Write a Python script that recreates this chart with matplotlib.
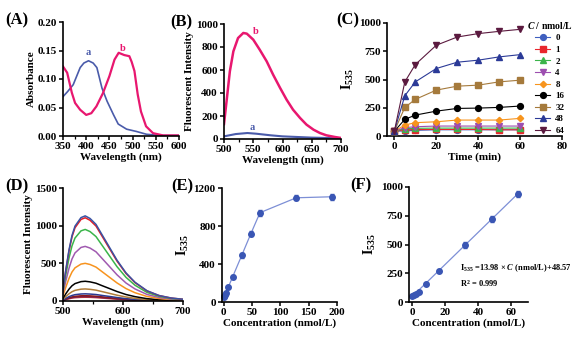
import numpy as np
import matplotlib
matplotlib.use("Agg")
import matplotlib.pyplot as plt
from matplotlib.lines import Line2D

plt.rcParams['font.family'] = 'Liberation Serif'
plt.rcParams['font.weight'] = 'bold'
plt.rcParams['axes.labelweight'] = 'bold'
plt.rcParams['mathtext.fontset'] = 'custom'
plt.rcParams['mathtext.rm'] = 'Liberation Serif:bold'
plt.rcParams['mathtext.bf'] = 'Liberation Serif:bold'
plt.rcParams['mathtext.it'] = 'Liberation Serif:italic:bold'

# (A) absorbance spectra
a_wl = [350, 360, 372, 387, 395, 405, 415, 423, 434, 445, 459, 469, 487, 508, 530, 559, 600]
a_abs = [0.069, 0.078, 0.090, 0.120, 0.128, 0.132, 0.128, 0.120, 0.084, 0.061, 0.037,
         0.021, 0.012, 0.008, 0.003, 0.001, 0.001]
b_wl = [350, 359, 369, 376, 387, 400, 411, 422, 436, 450, 461, 470, 476, 482, 493, 498,
        504, 511, 518, 529, 544, 566, 600]
b_abs = [0.122, 0.111, 0.076, 0.058, 0.046, 0.037, 0.040, 0.052, 0.075, 0.105, 0.134,
         0.146, 0.144, 0.142, 0.140, 0.130, 0.114, 0.073, 0.043, 0.017, 0.005, 0.001, 0.001]

# (B) fluorescence spectra
fb_wl = [500, 505, 510, 516, 524, 533, 539, 550, 561, 573, 584, 596, 607, 618, 630, 641,
         653, 664, 675, 690, 700]
fb = [130, 357, 588, 762, 878, 922, 916, 864, 777, 675, 559, 443, 342, 255, 183, 125, 81,
      52, 32, 17, 9]
fa_wl = [500, 520, 540, 555, 580, 600, 650, 700]
fa = [23, 43, 52, 46, 32, 23, 12, 6]

# (C) kinetics
time = [0, 5, 10, 20, 30, 40, 50, 60]
conc_labels = ['0', '1', '2', '4', '8', '16', '32', '48', '64']
kinetics = [
    [42, 45, 50, 55, 55, 55, 55, 55],
    [42, 55, 57, 58, 58, 58, 55, 55],
    [42, 65, 68, 70, 70, 70, 70, 70],
    [42, 74, 82, 88, 88, 88, 88, 88],
    [42, 97, 118, 126, 141, 141, 141, 156],
    [42, 147, 185, 220, 244, 247, 253, 265],
    [42, 253, 324, 406, 441, 450, 479, 494],
    [42, 356, 479, 597, 653, 671, 700, 720],
    [42, 479, 632, 803, 876, 906, 926, 944],
]
c_colors = ['#3f5fbf', '#e8262d', '#3cb44b', '#9d4fb0', '#f7941d', '#000000', '#a57a3c',
            '#2b3a97', '#5b1a3f']
c_markers = ['o', 's', '^', 'v', 'D', 'o', 's', '^', 'v']

# (D) spectra at different concentrations
d_wl = [500, 505, 510, 515, 520, 530, 537, 545, 555, 565, 575, 590, 605, 620, 640, 660, 680, 700]
d_curves = [
    [158, 429, 678, 870, 994, 1107, 1130, 1096, 1017, 881, 746, 542, 373, 249, 136, 73, 40, 23],
    [155, 420, 663, 851, 972, 1083, 1105, 1072, 995, 862, 729, 530, 365, 243, 133, 72, 39, 22],
    [133, 361, 570, 732, 836, 931, 950, 922, 855, 741, 627, 456, 314, 209, 114, 62, 33, 19],
    [102, 276, 435, 558, 638, 711, 725, 703, 653, 566, 479, 348, 239, 160, 87, 47, 25, 15],
    [70, 190, 300, 385, 440, 490, 500, 485, 450, 390, 330, 240, 165, 110, 60, 33, 18, 10],
    [37, 100, 157, 202, 231, 257, 262, 254, 236, 204, 173, 126, 86, 58, 31, 17, 9, 5],
    [22, 61, 96, 123, 141, 157, 160, 155, 144, 125, 106, 77, 53, 35, 19, 10, 6, 3],
    [13, 36, 57, 73, 84, 93, 95, 92, 86, 74, 63, 46, 31, 21, 11, 6, 3, 2],
    [10, 27, 42, 54, 62, 69, 70, 68, 63, 55, 46, 34, 23, 15, 8, 5, 2, 1],
    [8, 23, 36, 46, 53, 59, 60, 58, 54, 47, 40, 29, 20, 13, 7, 4, 2, 1],
    [7, 19, 30, 39, 44, 49, 50, 49, 45, 39, 33, 24, 17, 11, 6, 3, 2, 1],
]
d_colors = ['#3953a4', '#e41e26', '#3ab54a', '#a05ab0', '#f7931e', '#000000', '#b07d3a',
            '#2b3990', '#8b1a1a', '#6a1b6a', '#c0392b']

# (E) / (F) calibration
e_conc = [0, 1, 2, 4, 8, 16, 32, 48, 64, 128, 192]
e_int = [50, 60, 70, 90, 155, 268, 493, 720, 940, 1097, 1108]
e_err = [10, 10, 10, 10, 12, 15, 25, 25, 30, 25, 30]
f_conc = [0, 1, 2, 4, 8, 16, 32, 48, 64]
f_int = [50, 60, 70, 90, 155, 270, 495, 722, 938]
f_err = [8, 8, 8, 10, 10, 12, 28, 25, 28]
slope, intercept = 13.98, 48.57

W, H = 581, 340
fig = plt.figure(figsize=(W / 100, H / 100), dpi=100)


def make_ax(l, r, t, b):
    ax = fig.add_axes([l / W, 1 - b / H, (r - l) / W, (b - t) / H])
    for s in ['top', 'right']:
        ax.spines[s].set_visible(False)
    for s in ['left', 'bottom']:
        ax.spines[s].set_linewidth(1.2)
    ax.tick_params(labelsize=8, length=3, width=1.1, pad=1.5)
    ax.tick_params(which='minor', length=2, width=0.9)
    return ax


lab_kw = dict(fontsize=8, fontweight='bold', labelpad=1)
i_kw = dict(fontsize=10, fontweight='bold', labelpad=2)
panel_kw = dict(fontsize=12, fontweight='bold', va='center')
blue = '#3a56b4'
light = '#7d8fd6'

# A
ax = make_ax(63, 179, 22, 136)
ax.plot(a_wl, a_abs, color='#4a5baa', lw=1.2)
ax.plot(b_wl, b_abs, color='#e8176f', lw=1.6)
ax.set_xlim(350, 600)
ax.set_ylim(0, 0.2)
ax.set_xticks([350, 400, 450, 500, 550, 600])
ax.set_xticks(np.arange(375, 600, 50), minor=True)
ax.set_yticks([0, 0.05, 0.10, 0.15, 0.20])
ax.set_yticklabels(['0.00', '0.05', '0.10', '0.15', '0.20'])
ax.set_xlabel('Wavelength (nm)', **lab_kw)
ax.set_ylabel('Absorbance', **lab_kw)
ax.text(405, 0.138, 'a', color='#4a5baa', fontsize=7.5, ha='center', va='bottom')
ax.text(478, 0.145, 'b', color='#e8176f', fontsize=7.5, ha='center', va='bottom')

# B
ax = make_ax(224, 341, 24, 139)
ax.plot(fa_wl, fa, color='#4a5baa', lw=1.5)
ax.plot(fb_wl, fb, color='#e8176f', lw=1.8)
ax.set_xlim(500, 700)
ax.set_ylim(0, 1000)
ax.set_xticks([500, 550, 600, 650, 700])
ax.set_xticks(np.arange(525, 700, 50), minor=True)
ax.set_yticks(range(0, 1001, 200))
ax.set_xlabel('Wavelength (nm)', **lab_kw)
ax.set_ylabel('Fluorescent Intensity', **lab_kw)
ax.text(555, 895, 'b', color='#e8176f', fontsize=7.5, ha='center', va='bottom')
ax.text(548, 58, 'a', color='#4a5baa', fontsize=7.5, ha='center', va='bottom')

# C
ax = make_ax(387, 562, 23, 136)
handles = []
for lbl, ys, c, m in zip(conc_labels, kinetics, c_colors, c_markers):
    ms = 3.2 if m == 'D' else 4.2
    ax.plot(time, ys, color=c, lw=0.8, marker=m, ms=ms, clip_on=False, zorder=3)
    handles.append(Line2D([], [], color=c, lw=0.8, marker=m, ms=ms, label=lbl))
ax.set_xlim(-3.5, 80)
ax.set_ylim(0, 1000)
ax.set_xticks([0, 20, 40, 60, 80])
ax.set_yticks([0, 250, 500, 750, 1000])
ax.set_xlabel('Time (min)', **lab_kw)
ax.set_ylabel('I$_{535}$', **i_kw)
leg = fig.legend(handles=handles, title='$\\it{C}$ / nmol/L', loc='upper left',
                 bbox_to_anchor=(526 / W, 1 - 19 / H), frameon=False, fontsize=6.5,
                 title_fontsize=7, handlelength=1.6, handletextpad=0.6,
                 labelspacing=0.36, borderpad=0.1, borderaxespad=0)
leg.get_title().set_fontweight('bold')

# D
ax = make_ax(63, 183, 188, 301)
for ys, c in zip(d_curves[::-1], d_colors[::-1]):
    ax.plot(d_wl, ys, color=c, lw=1.1)
ax.set_xlim(500, 700)
ax.set_ylim(0, 1500)
ax.set_xticks([500, 600, 700])
ax.set_xticks([550, 650], minor=True)
ax.set_yticks([0, 500, 1000, 1500])
ax.set_xlabel('Wavelength (nm)', **lab_kw)
ax.set_ylabel('Fluorescent Intensity', **lab_kw)

# E
ax = make_ax(222, 337, 188, 302)
ax.plot(e_conc, e_int, color=light, lw=0.9)
ax.errorbar(e_conc, e_int, yerr=e_err, fmt='o', color=blue, ms=4, capsize=1.5,
            elinewidth=0.8, clip_on=False)
ax.set_xlim(-3, 200)
ax.set_ylim(0, 1200)
ax.set_xticks([0, 50, 100, 150, 200])
ax.set_yticks([0, 400, 800, 1200])
ax.set_xlabel('Concentration (nmol/L)', **lab_kw)
ax.set_ylabel('I$_{535}$', **i_kw)

# F
ax = make_ax(409, 528, 187, 302)
ax.plot([0, 64], [intercept, slope * 64 + intercept], color=light, lw=0.9)
ax.errorbar(f_conc, f_int, yerr=f_err, fmt='o', color=blue, ms=4, capsize=1.5,
            elinewidth=0.8, clip_on=False)
ax.set_xlim(-2, 70)
ax.set_ylim(0, 1000)
ax.set_xticks([0, 20, 40, 60])
ax.set_yticks([0, 250, 500, 750, 1000])
ax.set_xlabel('Concentration (nmol/L)', **lab_kw)
ax.set_ylabel('I$_{535}$', **i_kw)
ax.text(29, 292, 'I$_{535}$ =13.98 \u00d7 $\\it{C}$ (nmol/L)+48.57', fontsize=6,
        va='center')
ax.text(29, 165, 'R$^{2}$ = 0.999', fontsize=6, va='center')

# panel labels
for txt, x, y in [('(A)', 5, 20), ('(B)', 170, 22), ('(C)', 336, 20),
                  ('(D)', 5, 186), ('(E)', 171, 186), ('(F)', 350, 185)]:
    fig.text(x / W, 1 - y / H, txt, **panel_kw)

fig.savefig('out.png', dpi=100)
